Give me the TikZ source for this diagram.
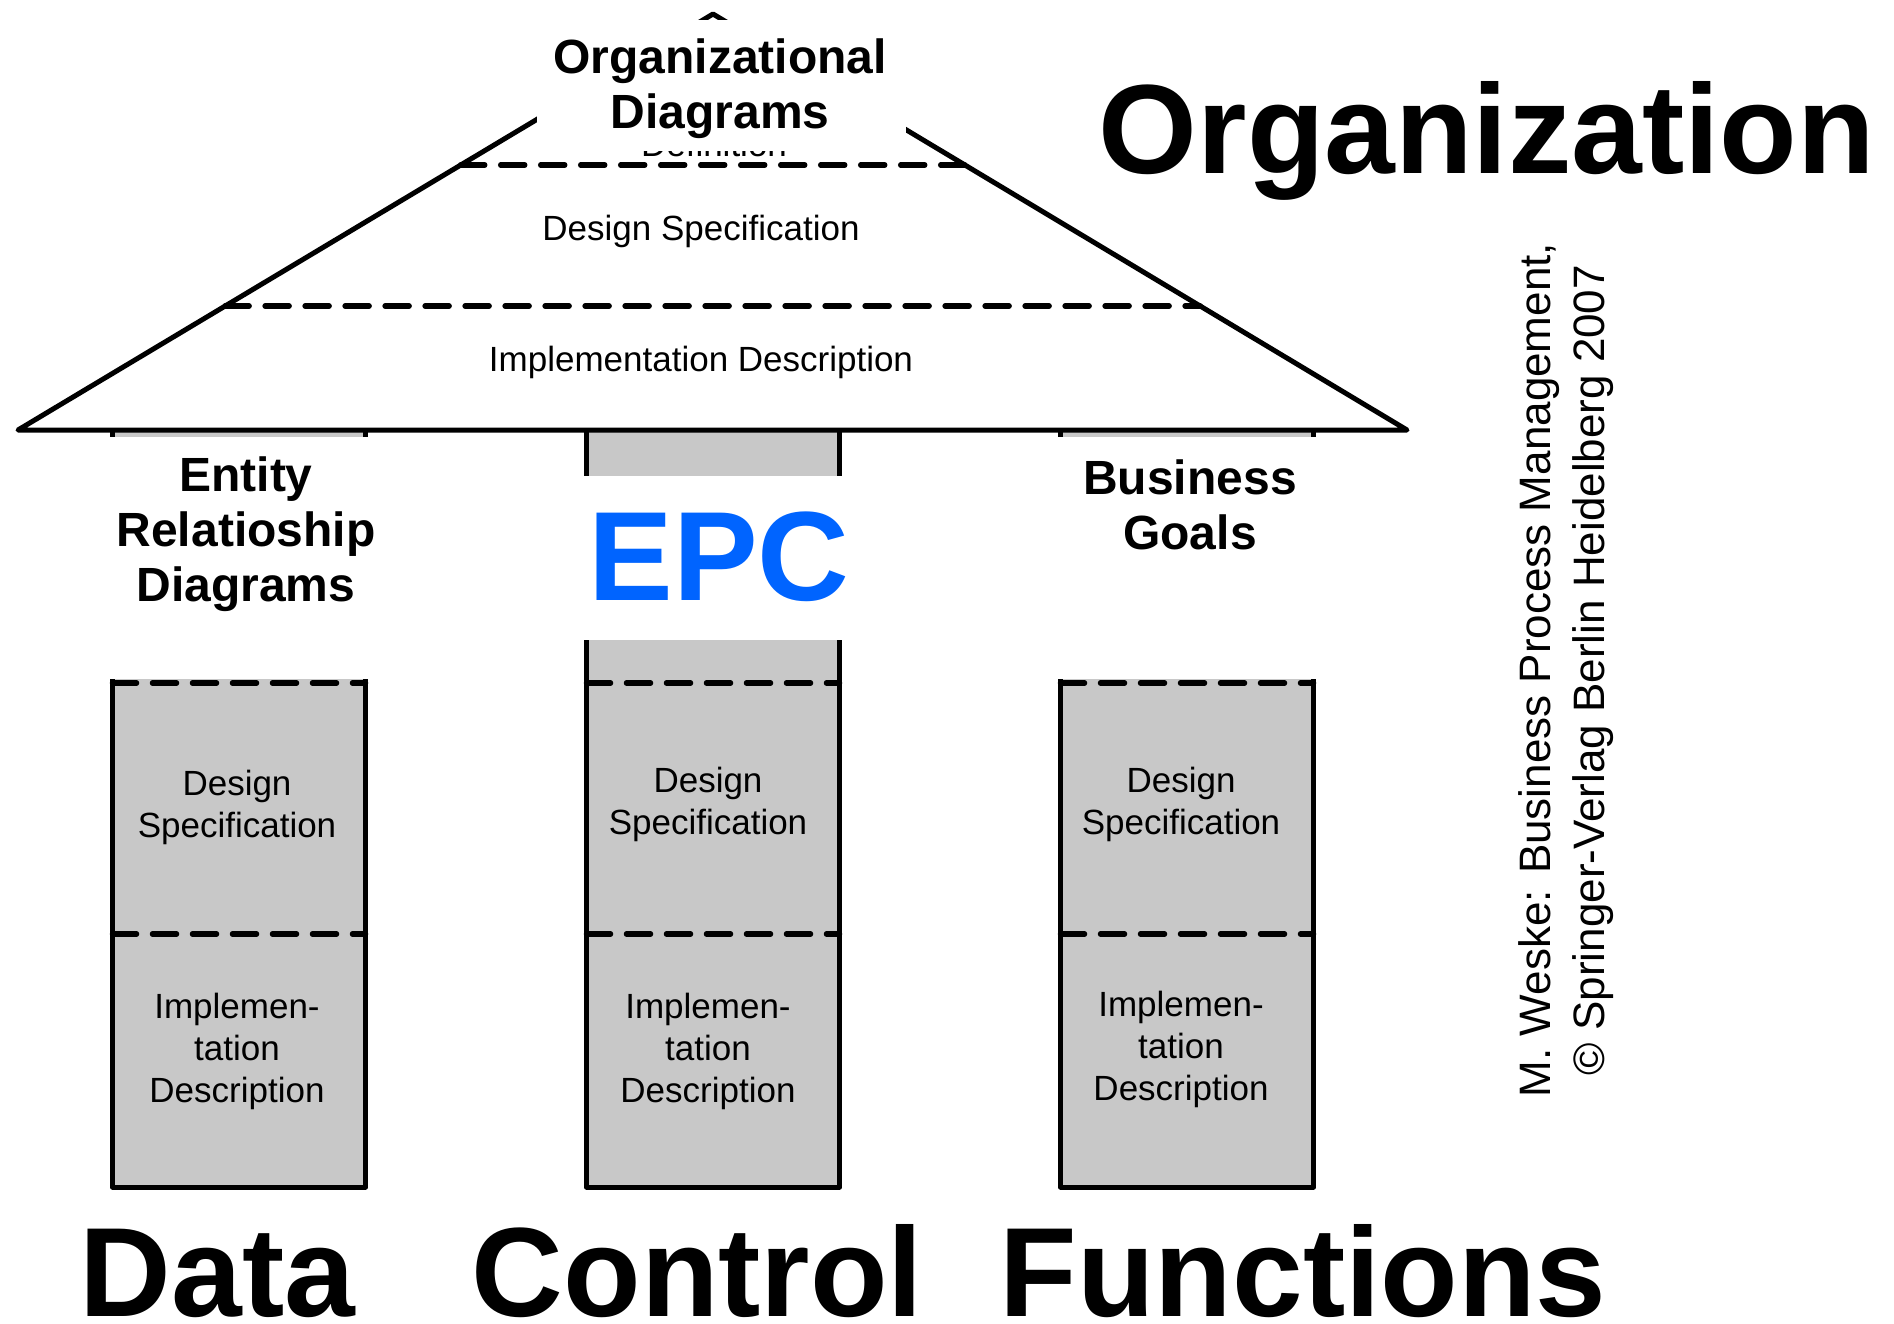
\documentclass[tikz,border=0pt]{standalone}
\usepackage{fontspec}
\setmainfont{Liberation Sans}
\usetikzlibrary{calc}
\definecolor{pillargray}{RGB}{200,200,200}
\definecolor{epcblue}{RGB}{0,100,255}
\begin{document}
\begin{tikzpicture}[x=1pt,y=-1pt,
  edge/.style={line width=5pt, line join=round, line cap=round},
  dashln/.style={line width=5.5pt, line cap=round, dash pattern=on 24pt off 16pt},
  cover/.style={fill=white, draw=none},
  bigtitle/.style={font=\fontsize{127}{140}\selectfont\bfseries, inner sep=0pt, anchor=base},
  heading/.style={font=\fontsize{48}{55}\selectfont\bfseries, align=center, inner sep=0pt},
  body/.style={font=\fontsize{35}{42}\selectfont, align=center, inner sep=0pt},
  credit/.style={font=\fontsize{44}{54}\selectfont, align=center, inner sep=0pt, rotate=90}]
\useasboundingbox (0,0) rectangle (1894,1323);

% ---- pillars ----
\foreach \xl/\xr in {112.5/365.5, 586.5/839.5, 1060.5/1313.5}{
  \fill[pillargray] (\xl,430) rectangle (\xr,1187);
  \draw[edge] (\xl,430) -- (\xl,1187) -- (\xr,1187) -- (\xr,430);
  \draw[dashln] (\xl,683) -- (\xr,683);
  \draw[dashln] (\xl,934) -- (\xr,934);
}
% white label areas over the pillar tops
\fill[cover] (105,437) rectangle (373,679);
\fill[cover] (580,476) rectangle (846,640);
\fill[cover] (1053,437) rectangle (1321,679);

% ---- roof ----
\coordinate (roofL) at (18,430);
\coordinate (roofR) at (1407,430);
\coordinate (apex) at (713,14);
\filldraw[fill=white, edge] (roofL) -- (apex) -- (roofR) -- cycle;
\draw[dashln] ($(roofL)!0.637!(apex)$) -- ($(roofR)!0.637!(apex)$);
\draw[dashln] ($(roofL)!0.298!(apex)$) -- ($(roofR)!0.298!(apex)$);

\node[body, anchor=base] (defn) at (714,156) {Definition};
\fill[cover] (537,20) rectangle (906,151);
\node[heading] (orgdiag) at (720,89) {Organizational\\Diagrams};

\node[body, anchor=base] (roofdesign) at (701,240) {Design Specification};
\node[body, anchor=base] (roofimpl) at (701,371) {Implementation Description};

% ---- pillar labels ----
\node[heading] (erd) at (246,534) {Entity\\Relatioship\\Diagrams};
\node[bigtitle, text=epcblue] (epc) at (719,600) {EPC};
\node[heading] (goals) at (1190,505) {Business\\Goals};

\node[body] (dsL) at (237,807.7) {Design\\Specification};
\node[body] (dsM) at (708,804.2) {Design\\Specification};
\node[body] (dsR) at (1181,804) {Design\\Specification};

\node[body] (idL) at (237,1051.7) {Implemen-\\tation\\Description};
\node[body] (idM) at (708,1051) {Implemen-\\tation\\Description};
\node[body] (idR) at (1181,1049) {Implemen-\\tation\\Description};

% ---- big words ----
\node[bigtitle] (organization) at (1487,173) {Organization};
\node[bigtitle] (data) at (217.5,1316) {Data};
\node[bigtitle] (control) at (697.5,1316) {Control};
\node[bigtitle] (functions) at (1303,1316) {Functions};

% ---- credit ----
\node[credit] (creditline) at (1566,670) {M. Weske: Business Process Management,\\© Springer-Verlag Berlin Heidelberg 2007};
\end{tikzpicture}
\end{document}
